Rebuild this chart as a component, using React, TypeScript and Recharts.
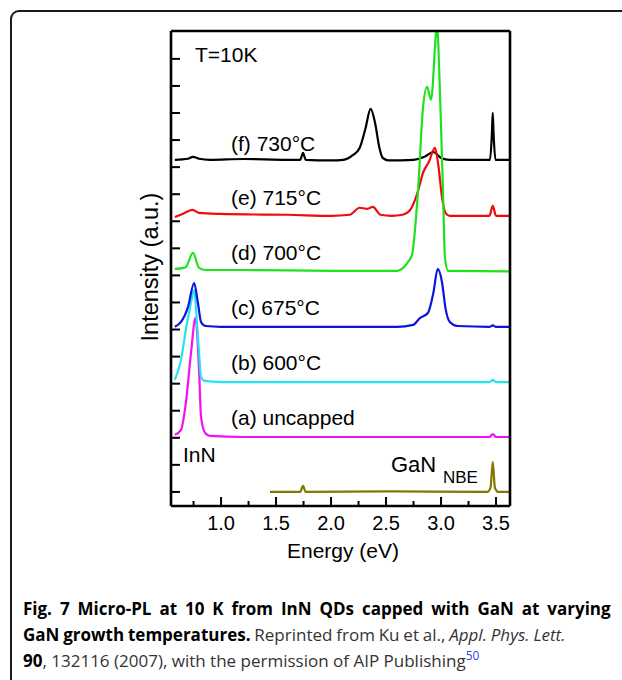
import React from "react";
import { LineChart, Line, XAxis, YAxis } from "recharts";

// spectra: photon energy (eV) and stacked intensity (a.u., tick units)
const energyNbe = [1.445, 1.72, 1.745, 1.77, 2.5, 3.42, 3.45, 3.47, 3.49, 3.52, 3.63];
const intensityNbe = [0, 0, 0.22, 0, 0.02, 0, 0.15, 1.11, 0.15, 0, 0];

const energyA = [0.58, 0.636, 0.68, 0.727, 0.768, 0.8, 0.818, 0.855, 0.9, 1.2, 3.44, 3.47, 3.5, 3.63];
const intensityA = [2.11, 2.29, 3.29, 5.14, 6.43, 4.51, 2.77, 2.18, 2.07, 2.03, 2.03, 2.14, 2.03, 2.03];

const energyB = [0.58, 0.636, 0.68, 0.72, 0.755, 0.785, 0.8, 0.818, 0.85, 1.0, 3.44, 3.47, 3.5, 3.63];
const intensityB = [4.14, 4.88, 5.99, 6.84, 7.46, 6.0, 5.14, 4.25, 4.1, 4.06, 4.06, 4.14, 4.06, 4.06];

const energyC = [0.58, 0.636, 0.7, 0.755, 0.79, 0.818, 0.86, 1.0, 2.6, 2.745, 2.81, 2.88, 2.93, 2.97, 3.01, 3.04, 3.08, 3.15, 3.44, 3.47, 3.5, 3.63];
const intensityC = [6.1, 6.28, 6.84, 7.72, 6.98, 6.28, 6.13, 6.1, 6.1, 6.17, 6.43, 6.61, 7.35, 8.24, 7.72, 6.8, 6.28, 6.13, 6.1, 6.15, 6.1, 6.1];

const energyD = [0.58, 0.66, 0.68, 0.745, 0.8, 0.86, 1.2, 2.0, 2.6, 2.627, 2.7, 2.736, 2.79, 2.836, 2.873, 2.909, 2.964, 2.99, 3.018, 3.036, 3.064, 3.63];
const intensityD = [8.24, 8.28, 8.31, 8.83, 8.28, 8.2, 8.2, 8.17, 8.17, 8.2, 8.5, 8.76, 11.09, 14.19, 14.97, 14.49, 17.2, 14.78, 11.09, 8.65, 8.17, 8.15];

const energyE = [0.58, 0.65, 0.74, 0.8, 1.0, 1.3, 1.6, 2.0, 2.17, 2.26, 2.33, 2.38, 2.45, 2.55, 2.65, 2.72, 2.78, 2.84, 2.89, 2.945, 2.975, 3.01, 3.04, 3.08, 3.44, 3.47, 3.5, 3.63];
const intensityE = [10.16, 10.27, 10.42, 10.31, 10.27, 10.25, 10.24, 10.2, 10.24, 10.5, 10.46, 10.53, 10.24, 10.2, 10.24, 10.42, 10.98, 11.83, 12.2, 12.71, 12.08, 10.86, 10.31, 10.2, 10.2, 10.57, 10.2, 10.2];

const energyF = [0.58, 0.7, 0.745, 0.8, 0.9, 1.2, 1.6, 1.72, 1.745, 1.77, 2.0, 2.11, 2.2, 2.26, 2.31, 2.36, 2.4, 2.44, 2.47, 2.52, 2.75, 2.85, 2.93, 3.0, 3.08, 3.445, 3.462, 3.47, 3.478, 3.495, 3.63];
const intensityF = [12.27, 12.31, 12.38, 12.31, 12.27, 12.3, 12.27, 12.27, 12.53, 12.27, 12.25, 12.27, 12.45, 12.71, 13.38, 14.15, 13.64, 12.71, 12.34, 12.25, 12.27, 12.38, 12.56, 12.34, 12.27, 12.27, 13.2, 14.01, 13.2, 12.27, 12.27];

const xTicks = [0.75, 1.0, 1.25, 1.5, 1.75, 2.0, 2.25, 2.5, 2.75, 3.0, 3.25, 3.5];
const yTicks = [0, 1, 2, 3, 4, 5, 6, 7, 8, 9, 10, 11, 12, 13, 14, 15, 16];

const traceLabels = ["(a) uncapped", "(b) 600°C", "(c) 675°C", "(d) 700°C", "(e) 715°C", "(f) 730°C"];

const toPoints = (energy: number[], intensity: number[]) =>
  energy.map((e, i) => ({ e, v: intensity[i] }));

const font = "'Liberation Sans', Arial, Helvetica, sans-serif";

const XTick = (props: any) => {
  const { x, y, payload } = props;
  const v = payload.value;
  const major = Math.round(v * 100) % 50 === 0;
  return (
    <g>
      <line x1={x} x2={x} y1={y} y2={y - (major ? 9 : 5)} stroke="#000" strokeWidth={2} />
      {major && (
        <text x={x} y={y + 24} textAnchor="middle" fontSize={20} fontFamily={font} fill="#000">
          {v.toFixed(1)}
        </text>
      )}
    </g>
  );
};

const YTick = (props: any) => {
  const { x, y } = props;
  return <line x1={x} x2={x + 9} y1={y} y2={y} stroke="#000" strokeWidth={2} />;
};

const frame = { stroke: "#000", strokeWidth: 2.6 };

export default function App() {
  return (
    <div style={{ position: "absolute", left: 0, top: 0, width: 622, height: 680, overflow: "hidden", background: "#fff" }}>
      <div
        style={{
          position: "absolute",
          left: 10,
          top: 10,
          width: 700,
          height: 760,
          border: "2px solid #1a1a1a",
          borderRadius: 9,
        }}
      />

      <div style={{ position: "absolute", left: 0, top: 0 }}>
        <LineChart width={622} height={580} margin={{ top: 30, right: 111, bottom: 73, left: 170 }}>
          <XAxis
            type="number"
            dataKey="e"
            domain={[0.545, 3.627]}
            ticks={xTicks}
            interval={0}
            height={1}
            tickSize={0}
            tickMargin={0}
            tick={<XTick />}
            axisLine={frame}
            allowDataOverflow
          />
          <XAxis
            xAxisId="top"
            orientation="top"
            type="number"
            domain={[0.545, 3.627]}
            height={1}
            tick={false}
            tickLine={false}
            axisLine={frame}
          />
          <YAxis
            type="number"
            domain={[-0.52, 17.03]}
            ticks={yTicks}
            interval={0}
            width={1}
            tickSize={0}
            tickMargin={0}
            tick={<YTick />}
            axisLine={frame}
            allowDataOverflow
          />
          <YAxis
            yAxisId="right"
            orientation="right"
            type="number"
            domain={[-0.52, 17.03]}
            width={1}
            tick={false}
            tickLine={false}
            axisLine={frame}
          />
          <Line data={toPoints(energyNbe, intensityNbe)} dataKey="v" type="monotone" stroke="#807800" strokeWidth={2.2} dot={false} isAnimationActive={false} />
          <Line data={toPoints(energyA, intensityA)} dataKey="v" type="monotone" stroke="#f012f0" strokeWidth={2.2} dot={false} isAnimationActive={false} />
          <Line data={toPoints(energyB, intensityB)} dataKey="v" type="monotone" stroke="#22e4ee" strokeWidth={2.2} dot={false} isAnimationActive={false} />
          <Line data={toPoints(energyC, intensityC)} dataKey="v" type="monotone" stroke="#0a14dc" strokeWidth={2.2} dot={false} isAnimationActive={false} />
          <Line data={toPoints(energyF, intensityF)} dataKey="v" type="monotone" stroke="#000" strokeWidth={2.2} dot={false} isAnimationActive={false} />
          <Line data={toPoints(energyE, intensityE)} dataKey="v" type="monotone" stroke="#f00a0a" strokeWidth={2.2} dot={false} isAnimationActive={false} />
          <Line data={toPoints(energyD, intensityD)} dataKey="v" type="monotone" stroke="#1fe21f" strokeWidth={2.2} dot={false} isAnimationActive={false} />
        </LineChart>
      </div>

      <svg width={622} height={680} style={{ position: "absolute", left: 0, top: 0, pointerEvents: "none" }}>
        <g fontFamily={font} fill="#000" fontSize={21}>
          <text x={195} y={62}>T=10K</text>
          <text x={231} y={151}>{traceLabels[5]}</text>
          <text x={231} y={205}>{traceLabels[4]}</text>
          <text x={231} y={260}>{traceLabels[3]}</text>
          <text x={231} y={315}>{traceLabels[2]}</text>
          <text x={231} y={370}>{traceLabels[1]}</text>
          <text x={231} y={425}>{traceLabels[0]}</text>
          <text x={183} y={462}>InN</text>
          <text x={391} y={472} fontSize={22}>
            GaN
            <tspan x={443} y={483} fontSize={17}>NBE</tspan>
          </text>
          <text x={343} y={558} textAnchor="middle">Energy (eV)</text>
          <text x={158} y={267} textAnchor="middle" fontSize={23.5} transform="rotate(-90 158 267)">Intensity (a.u.)</text>
        </g>
        <g fontFamily="'Open Sans', Lato, sans-serif" fontSize={17}>
          <text x={23} y={615} fontWeight={700} fill="#000" wordSpacing={3.5}>
            Fig. 7 Micro-PL at 10 K from InN QDs capped with GaN at varying
          </text>
          <text x={23} y={641} fill="#333" wordSpacing={-0.6}>
            <tspan fontWeight={700} fill="#000">GaN growth temperatures.</tspan>
            <tspan> Reprinted from Ku et al., </tspan>
            <tspan fontStyle="italic">Appl. Phys. Lett.</tspan>
          </text>
          <text x={23} y={667} fill="#333">
            <tspan fontWeight={700} fill="#000">90</tspan>
            <tspan>, 132116 (2007), with the permission of AIP Publishing</tspan>
            <tspan fill="#3344dd" fontSize={12} dy={-7}>50</tspan>
          </text>
        </g>
      </svg>
    </div>
  );
}
